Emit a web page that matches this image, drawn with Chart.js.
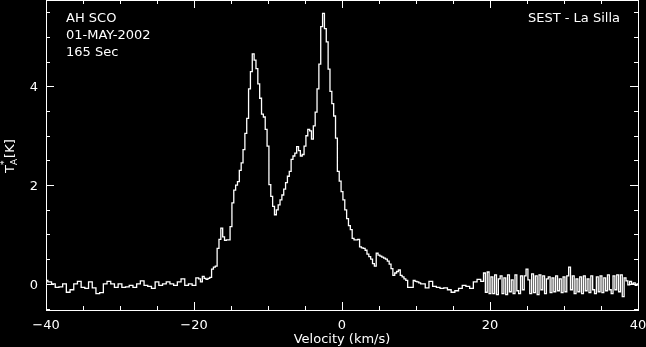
<!DOCTYPE html>
<html>
<head>
<meta charset="utf-8">
<script src="https://cdn.jsdelivr.net/npm/chart.js@4/dist/chart.umd.min.js"></script>
<style>
  html, body { margin: 0; padding: 0; background: #000; }
</style>
</head>
<body>
<canvas id="spectrum" width="646" height="347"></canvas>
<script>
// Left baseline, -40 .. -19.5 km/s, 0.5 km/s channels (T_A* in K)
const leftStart = -40;
const leftStep = 0.5;
const leftTemps = [
  0.07, 0.04, 0.00, -0.07, -0.06, 0.00, -0.17, -0.12, 0.00, 0.05,
  -0.07, -0.09, 0.04, -0.08, -0.20, -0.18, 0.00, 0.05, 0.00, -0.07,
  0.00, -0.07, -0.06, -0.03, -0.07, 0.00, 0.06, -0.03, -0.05, -0.09,
  0.04, -0.03, 0.00, 0.04, 0.00, -0.03, 0.04, 0.10, -0.03, 0.00,
  -0.03, 0.12
];

// Line emission, -19.25 .. 10.75 km/s, 0.25 km/s channels
const lineStart = -19.25;
const lineStep = 0.25;
const lineTemps = [
  0.10, 0.04, 0.15, 0.11, 0.09, 0.11, 0.13, 0.30, 0.34, 0.36,
  0.72, 0.90, 1.13, 0.95, 0.88, 0.89, 0.89, 1.16, 1.64, 1.90,
  2.00, 2.07, 2.30, 2.45, 2.72, 3.05, 3.35, 3.95, 4.30, 4.66,
  4.53, 4.36, 4.05, 3.76, 3.44, 3.38, 3.13, 2.79, 2.01, 1.77,
  1.57, 1.40, 1.50, 1.60, 1.70, 1.80, 1.92, 2.05, 2.18, 2.28,
  2.52, 2.59, 2.65, 2.78, 2.70, 2.59, 2.62, 2.79, 3.00, 3.13,
  3.10, 2.93, 3.20, 3.48, 3.95, 4.45, 5.21, 5.48, 5.17, 4.90,
  4.35, 3.90, 3.65, 3.40, 2.95, 2.28, 2.08, 1.87, 1.70, 1.50,
  1.32, 1.18, 1.10, 0.92, 0.89, 0.89, 0.90, 0.75, 0.73, 0.72,
  0.68, 0.60, 0.55, 0.50, 0.41, 0.36, 0.62, 0.58, 0.56, 0.54,
  0.52, 0.50, 0.46, 0.40, 0.31, 0.17, 0.22, 0.25, 0.28, 0.17,
  0.14, 0.10, 0.07, -0.07, -0.07, -0.07, 0.07, 0.05, 0.04, 0.02,
  0.00
];

// Right baseline, 11 .. 19 km/s, 0.5 km/s channels
const rightStart = 11;
const rightStep = 0.5;
const rightTemps = [
  0.00, -0.08, 0.05, -0.05, -0.07, -0.09, -0.08, -0.12, -0.17, -0.14,
  -0.09, -0.03, -0.05, -0.09, 0.04, 0.09, 0.05
];

// Noisy end of the band, 19.25 .. 40 km/s, 0.25 km/s channels
const tailStart = 19.25;
const tailStep = 0.25;
const tailTemps = [
  0.22, -0.17, 0.24, -0.20, 0.14, -0.20, 0.18, -0.22, 0.10, 0.16,
  -0.20, 0.12, -0.22, 0.18, -0.16, 0.08, -0.20, 0.18, -0.14, -0.20,
  0.16, -0.12, 0.16, 0.30, 0.08, -0.20, 0.20, -0.18, 0.16, -0.22,
  0.18, -0.12, 0.16, -0.20, 0.10, 0.14, -0.18, 0.12, -0.16, 0.16,
  -0.14, 0.10, -0.18, 0.14, -0.16, 0.16, 0.34, -0.12, 0.16, -0.20,
  0.10, -0.16, 0.14, -0.20, 0.16, -0.14, 0.10, -0.18, 0.16, -0.12,
  -0.20, 0.14, -0.16, 0.16, -0.18, 0.12, -0.14, 0.18, -0.12, -0.20,
  0.16, -0.12, 0.18, -0.16, 0.18, -0.26, 0.12, 0.06, -0.02, 0.05,
  0.00, 0.02, -0.03, 0.00
];

// Axes
const xRange = [-40, 40];
const yRange = [-0.53, 5.75];
const xMajorTicks = [-40, -20, 0, 20, 40];
const xMinorStep = 5;
const yMajorTicks = [0, 2, 4];
const yMinorStep = 0.5;

// Annotations
const headerLines = ['AH SCO', '01-MAY-2002', '165 Sec'];
const telescopeLabel = 'SEST - La Silla';
const xTitle = 'Velocity (km/s)';

const FONT = '"DejaVu Sans", sans-serif';

// Build the point list for the stepped line
const points = [];
const addSegment = (start, step, temps) =>
  temps.forEach((t, i) => points.push({ x: start + i * step, y: t }));
addSegment(leftStart, leftStep, leftTemps);
addSegment(lineStart, lineStep, lineTemps);
addSegment(rightStart, rightStep, rightTemps);
addSegment(tailStart, tailStep, tailTemps);

// Format a number with a real minus sign
const fmt = v => (v < 0 ? '\u2212' + Math.abs(v) : String(v));

// Draws the box, inward ticks, tick labels, titles and the text annotations
const framePlugin = {
  id: 'frame',
  afterDraw(chart) {
    const { ctx, chartArea: a, scales: { x, y } } = chart;
    ctx.save();
    ctx.strokeStyle = '#fff';
    ctx.lineWidth = 1;
    ctx.strokeRect(a.left + 0.5, a.top + 0.5, a.right - a.left, a.bottom - a.top);

    ctx.beginPath();
    for (let v = xRange[0]; v <= xRange[1]; v += xMinorStep) {
      const px = Math.round(x.getPixelForValue(v)) + 0.5;
      const len = xMajorTicks.includes(v) ? 8 : 4;
      ctx.moveTo(px, a.bottom);
      ctx.lineTo(px, a.bottom - len);
      ctx.moveTo(px, a.top);
      ctx.lineTo(px, a.top + len);
    }
    for (let v = -0.5; v <= yRange[1]; v += yMinorStep) {
      const py = Math.round(y.getPixelForValue(v)) + 0.5;
      const len = yMajorTicks.includes(v) ? 8 : 4;
      ctx.moveTo(a.left, py);
      ctx.lineTo(a.left + len, py);
      ctx.moveTo(a.right, py);
      ctx.lineTo(a.right - len, py);
    }
    ctx.stroke();

    ctx.fillStyle = '#fff';
    ctx.font = '13px ' + FONT;
    ctx.textBaseline = 'alphabetic';

    // tick labels
    ctx.textAlign = 'center';
    xMajorTicks.forEach(v => ctx.fillText(fmt(v), x.getPixelForValue(v), a.bottom + 19));
    ctx.textAlign = 'right';
    yMajorTicks.forEach(v => ctx.fillText(fmt(v), a.left - 8, y.getPixelForValue(v) + 5));

    // x axis title
    ctx.textAlign = 'center';
    ctx.fillText(xTitle, (a.left + a.right) / 2, 343);

    // header text
    ctx.textAlign = 'left';
    headerLines.forEach((line, i) => ctx.fillText(line, 66, 22 + i * 17));
    ctx.textAlign = 'right';
    ctx.fillText(telescopeLabel, 620, 22);

    // y axis title: T_A^* [K], rotated
    ctx.translate(14, 173);
    ctx.rotate(-Math.PI / 2);
    ctx.textAlign = 'left';
    ctx.fillText('T', 0, 0);
    const tw = ctx.measureText('T').width;
    ctx.font = '9px ' + FONT;
    ctx.fillText('A', tw, 3);
    ctx.fillText('*', tw, -7);
    const sw = ctx.measureText('A').width;
    ctx.font = '13px ' + FONT;
    ctx.fillText('[K]', tw + sw + 1, 0);
    ctx.restore();
  }
};

const ctx = document.getElementById('spectrum').getContext('2d');
window.spectrumChart = new Chart(ctx, {
  type: 'line',
  data: {
    datasets: [
      {
        data: points,
        borderColor: '#fff',
        borderWidth: 1.3,
        pointRadius: 0,
        stepped: 'middle',
        fill: false,
      },
    ],
  },
  options: {
    responsive: false,
    animation: false,
    devicePixelRatio: 1,
    layout: { padding: { left: 46, top: 0, right: 8, bottom: 37 } },
    plugins: { legend: { display: false }, tooltip: { enabled: false } },
    scales: {
      x: { type: 'linear', min: xRange[0], max: xRange[1], display: false },
      y: { type: 'linear', min: yRange[0], max: yRange[1], display: false },
    },
  },
  plugins: [framePlugin],
});
</script>
</body>
</html>
